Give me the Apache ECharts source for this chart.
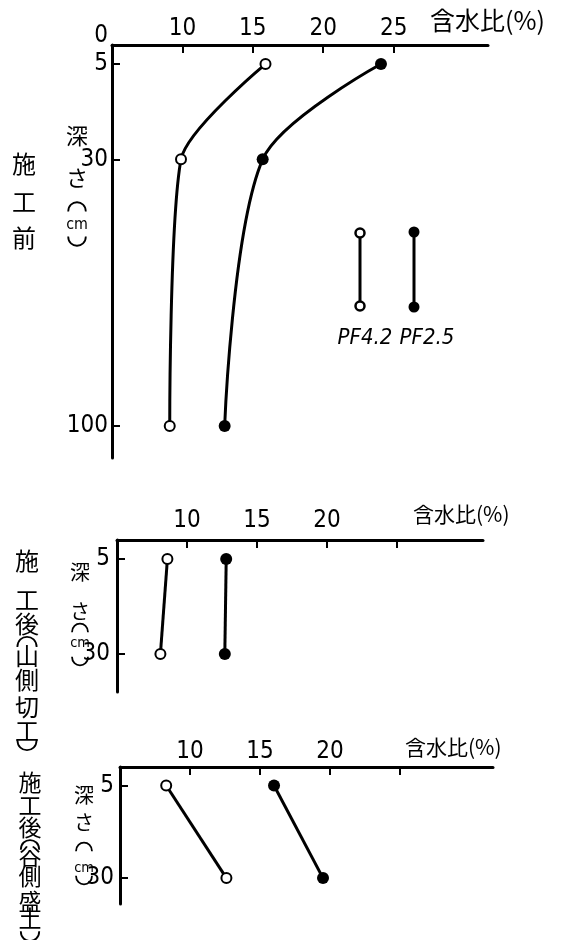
<!DOCTYPE html>
<html><head><meta charset="utf-8">
<script src="https://cdn.jsdelivr.net/npm/echarts@6/dist/echarts.min.js"></script>
<style>html,body{margin:0;padding:0;background:#fff}#c{width:562px;height:940px}</style>
</head><body><div id="c"></div>
<script>
// ---- data ----
const xTickValues = [10, 15, 20, 25];
const xLabelsTop = [10, 15, 20, 25];
const xLabelsAfter = [10, 15, 20];
const yLabelsTop = [0, 5, 30, 100];
const yTicksTop = [5, 30, 100];
const yTicksAfter = [5, 30];
const depthBefore = [5, 30, 100];
const pf42Before = [15.9, 9.9, 9.1];
const pf25Before = [24.1, 15.7, 13.0];
const depthAfter = [5, 30];
const pf42Cut = [8.6, 8.1];
const pf25Cut = [12.8, 12.7];
const pf42Fill = [8.3, 12.6];
const pf25Fill = [16.0, 19.5];
const xName = '含水比(%)';
const legendNames = ['PF4.2', 'PF2.5'];

const NARROW = '"Liberation Sans Narrow","DejaVu Sans Condensed","Liberation Sans",sans-serif';
const CJK = '"Noto Sans CJK JP","Noto Sans CJK SC",sans-serif';

function zip(xs, ys) { return xs.map((v, i) => [v, ys[i]]); }

const grids = [
  {left: 112, top: 45, width: 376, height: 413},
  {left: 117, top: 540, width: 366, height: 152},
  {left: 120, top: 767, width: 373, height: 137}
];
const xMax = [31.7, 31.14, 31.64];
const yMax = [108.4, 40, 37];
const xLabelMargin = [4, 7, 3];
const yLabelMargin = [4, 7, 6];
const nameGap = [-58, -70, -88];
const namePad = [12, 15, 9];
const nameSize = [25, 21, 21];

const xAxes = grids.map((g, i) => ({
  gridIndex: i, type: 'value', position: 'top', min: 5, max: xMax[i], interval: 5,
  axisLine: {show: true, onZero: false, lineStyle: {color: '#000', width: 3}},
  axisTick: {show: true, inside: true, length: 8, lineStyle: {color: '#000', width: 2}, customValues: xTickValues},
  axisLabel: {show: true, margin: xLabelMargin[i], color: '#000', fontSize: 24, fontFamily: NARROW,
    customValues: i === 0 ? xLabelsTop : xLabelsAfter},
  splitLine: {show: false},
  name: xName, nameLocation: 'end', nameGap: nameGap[i],
  nameTextStyle: {color: '#000', fontSize: nameSize[i], fontFamily: CJK, verticalAlign: 'bottom', align: 'left', padding: [0, 0, namePad[i], 0]}
}));

const yAxes = grids.map((g, i) => ({
  gridIndex: i, type: 'value', inverse: true, min: 0, max: yMax[i],
  axisLine: {show: true, onZero: false, lineStyle: {color: '#000', width: 3}},
  axisTick: {show: true, inside: true, length: 8, lineStyle: {color: '#000', width: 2},
    customValues: i === 0 ? yTicksTop : yTicksAfter},
  axisLabel: {show: true, margin: yLabelMargin[i], color: '#000', fontSize: 24, fontFamily: NARROW,
    customValues: i === 0 ? yLabelsTop : yTicksAfter,
    formatter: v => v === 0 ? '{z|0}' : String(v),
    rich: {z: {fontSize: 24, fontFamily: NARROW, color: '#000', padding: [0, 0, 18, 0]}}},
  splitLine: {show: false}
}));

function openSeries(name, data, gi, smooth) {
  return {name, type: 'line', xAxisIndex: gi, yAxisIndex: gi, data, smooth: smooth,
    symbol: 'emptyCircle', symbolSize: 10,
    itemStyle: {color: '#000', borderColor: '#000', borderWidth: 2.5},
    lineStyle: {color: '#000', width: 3}, z: 3};
}
function fillSeries(name, data, gi, smooth) {
  return {name, type: 'line', xAxisIndex: gi, yAxisIndex: gi, data, smooth: smooth,
    symbol: 'circle', symbolSize: 12,
    itemStyle: {color: '#000'},
    lineStyle: {color: '#000', width: 3}, z: 3};
}

const series = [
  openSeries(legendNames[0], zip(pf42Before, depthBefore), 0, 0.25),
  fillSeries(legendNames[1], zip(pf25Before, depthBefore), 0, 0.3),
  openSeries(legendNames[0], zip(pf42Cut, depthAfter), 1, false),
  fillSeries(legendNames[1], zip(pf25Cut, depthAfter), 1, false),
  openSeries(legendNames[0], zip(pf42Fill, depthAfter), 2, false),
  fillSeries(legendNames[1], zip(pf25Fill, depthAfter), 2, false)
];

// ---- side labels (vertical writing) ----
function vtext(chars, ys, x, size) {
  return chars.map((c, i) => {
    const y = ys[i];
    if (c === '︵' || c === '︶') {
      const w = size * 0.4, h = size * 0.42;
      const s = c === '︵' ? 1 : -1;
      return {type: 'bezierCurve',
        shape: {x1: x - w, y1: y + s * h * 0.5, x2: x + w, y2: y + s * h * 0.5,
          cpx1: x - w, cpy1: y - s * h * 0.85, cpx2: x + w, cpy2: y - s * h * 0.85},
        style: {stroke: '#000', fill: null, lineWidth: 1.8}};
    }
    if (c === 'cm') {
      return {type: 'text', x: x, y: y,
        style: {text: 'cm', fontSize: size * 0.72, fontFamily: NARROW, fill: '#000', align: 'center', verticalAlign: 'middle'}};
    }
    return {type: 'text', x: x, y: y,
      style: {text: c, fontSize: size, fontFamily: CJK, fill: '#000', align: 'center', verticalAlign: 'middle'}};
  });
}
const graphics = [].concat(
  vtext(['施', '工', '前'], [164, 202, 238], 24, 24),
  vtext(['深', 'さ', '︵', 'cm', '︶'], [136, 178, 207, 225, 241], 77, 22),
  vtext(['施', '工', '後', '︵', '山', '側', '切', '工', '︶'], [561, 600, 624, 642, 656, 680, 707, 731, 745], 27, 24),
  vtext(['深', 'さ', '︵', 'cm', '︶'], [572, 611, 628, 643, 661], 80, 20),
  vtext(['施', '工', '後', '︵', '谷', '側', '盛', '土', '︶'], [782, 805, 827, 845, 856, 876, 901, 918, 936], 30, 23),
  vtext(['深', 'さ', '︵', 'cm', '︶'], [795, 822, 847, 868, 880], 84, 20),
  [
    {type: 'line', shape: {x1: 360, y1: 233, x2: 360, y2: 306}, style: {stroke: '#000', lineWidth: 3}},
    {type: 'circle', shape: {cx: 360, cy: 233, r: 4.5}, style: {fill: '#fff', stroke: '#000', lineWidth: 2.5}, z: 10},
    {type: 'circle', shape: {cx: 360, cy: 306, r: 4.5}, style: {fill: '#fff', stroke: '#000', lineWidth: 2.5}, z: 10},
    {type: 'line', shape: {x1: 414, y1: 232, x2: 414, y2: 307}, style: {stroke: '#000', lineWidth: 3}},
    {type: 'circle', shape: {cx: 414, cy: 232, r: 5.5}, style: {fill: '#000'}, z: 10},
    {type: 'circle', shape: {cx: 414, cy: 307, r: 5.5}, style: {fill: '#000'}, z: 10},
    {type: 'text', x: 365, y: 338, style: {text: legendNames[0], fontSize: 22, fontStyle: 'italic', fontFamily: NARROW, fill: '#000', align: 'center', verticalAlign: 'middle'}},
    {type: 'text', x: 427, y: 338, style: {text: legendNames[1], fontSize: 22, fontStyle: 'italic', fontFamily: NARROW, fill: '#000', align: 'center', verticalAlign: 'middle'}}
  ]
);

const chart = echarts.init(document.getElementById('c'), null, {renderer: 'canvas'});
chart.setOption({
  backgroundColor: '#fff',
  animation: false,
  grid: grids,
  xAxis: xAxes,
  yAxis: yAxes,
  series: series,
  graphic: graphics
});
</script></body></html>
